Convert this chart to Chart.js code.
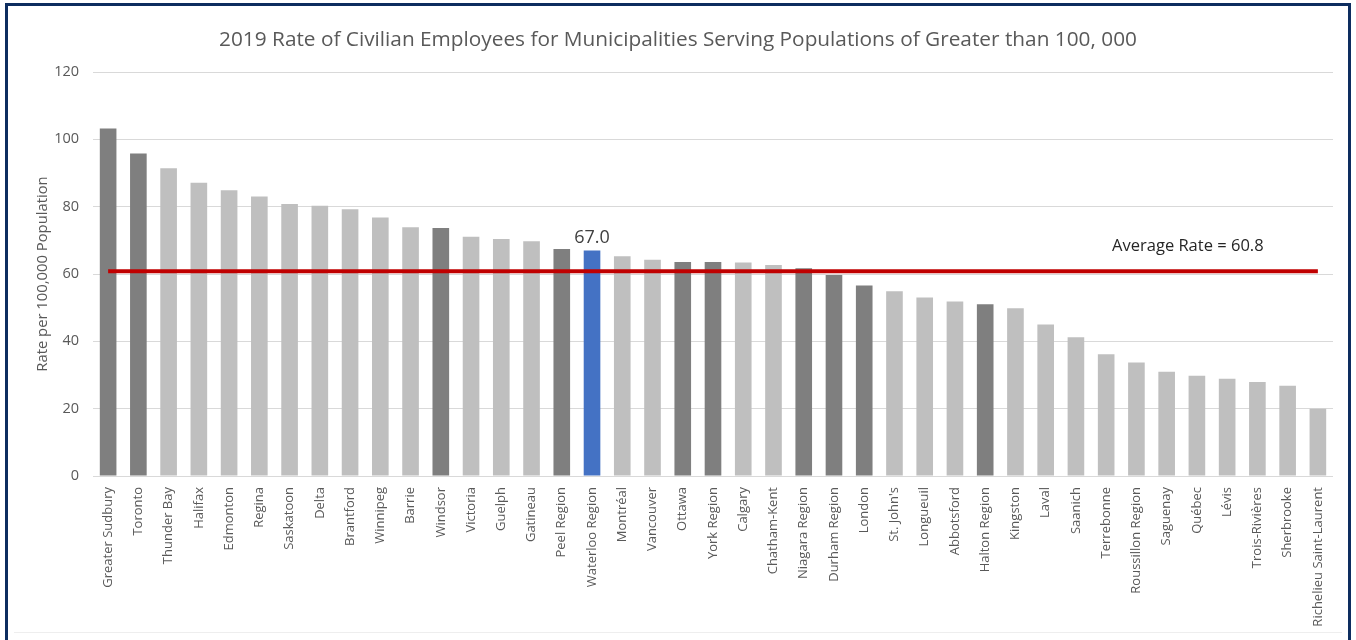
<!DOCTYPE html>
<html lang="en">
<head>
    <meta charset="UTF-8">
    <title>2019 Rate of Civilian Employees</title>
    <script src="https://cdn.jsdelivr.net/npm/chart.js"></script>
    <style>
        html, body { margin: 0; padding: 0; background: #fff; }
        #wrap { position: relative; width: 1356px; height: 640px; }
        #frame {
            position: absolute; left: 5px; top: 3px; width: 1340px; height: 640px;
            border: 3px solid #0d2d5f; border-bottom: none; pointer-events: none;
        }
    </style>
</head>
<body>
    <div id="wrap">
        <canvas id="chart" width="1356" height="640"></canvas>
        <div id="frame"></div>
    </div>
    <script>
        // Municipalities, sorted by rate (civilian employees per 100,000 population)
        var municipalities = ['Greater Sudbury', 'Toronto', 'Thunder Bay', 'Halifax', 'Edmonton', 'Regina',
            'Saskatoon', 'Delta', 'Brantford', 'Winnipeg', 'Barrie', 'Windsor', 'Victoria', 'Guelph',
            'Gatineau', 'Peel Region', 'Waterloo Region', 'Montréal', 'Vancouver', 'Ottawa', 'York Region',
            'Calgary', 'Chatham-Kent', 'Niagara Region', 'Durham Region', 'London', "St. John's",
            'Longueuil', 'Abbotsford', 'Halton Region', 'Kingston', 'Laval', 'Saanich', 'Terrebonne',
            'Roussillon Region', 'Saguenay', 'Québec', 'Lévis', 'Trois-Rivières', 'Sherbrooke',
            'Richelieu Saint-Laurent'];

        var rates = [103.2, 95.8, 91.4, 87.1, 84.9, 83.0,
            80.8, 80.3, 79.2, 76.8, 73.9, 73.7, 71.1, 70.4,
            69.7, 67.4, 67.0, 65.3, 64.2, 63.6, 63.6,
            63.4, 62.7, 61.7, 59.7, 56.6, 54.9,
            53.0, 51.8, 51.0, 49.8, 45.0, 41.2, 36.2,
            33.7, 31.0, 29.8, 28.9, 27.9, 26.8,
            20.0];

        // Comparator group (darker bars) and the highlighted municipality
        var comparators = ['Greater Sudbury', 'Toronto', 'Windsor', 'Peel Region', 'Ottawa', 'York Region',
            'Niagara Region', 'Durham Region', 'London', 'Halton Region'];
        var focusMunicipality = 'Waterloo Region';
        var averageRate = 60.8;

        var yTicks = [0, 20, 40, 60, 80, 100, 120];
        var chartTitle = '2019 Rate of Civilian Employees for Municipalities Serving Populations of Greater than 100, 000';

        var FONT = "'Open Sans', sans-serif";
        var TEXT = '#595959';

        var barColors = municipalities.map(function(m) {
            if (m === focusMunicipality) return '#4472c4';
            if (comparators.indexOf(m) >= 0) return '#7f7f7f';
            return '#bfbfbf';
        });

        // title, value label over the highlighted bar, average rate caption
        var annotations = {
            id: 'annotations',
            afterDatasetsDraw: function(chart) {
                var ctx = chart.ctx;
                var x = chart.scales.x, y = chart.scales.y;
                var i = municipalities.indexOf(focusMunicipality);
                var bar = chart.getDatasetMeta(1).data[i];
                ctx.save();
                ctx.textAlign = 'center';
                ctx.textBaseline = 'middle';
                ctx.font = '20.8px ' + FONT;
                ctx.fillStyle = TEXT;
                ctx.fillText(chartTitle, 678, 40);

                ctx.textBaseline = 'alphabetic';
                ctx.font = '18px ' + FONT;
                ctx.fillStyle = '#404040';
                ctx.fillText(rates[i].toFixed(1), bar.x, bar.y - 7);

                ctx.font = '16.5px ' + FONT;
                ctx.fillStyle = '#262626';
                ctx.fillText('Average Rate = ' + averageRate.toFixed(1), x.getPixelForValue(35.7), y.getPixelForValue(averageRate) - 20);

                // faint bottom edge of the chart box
                ctx.strokeStyle = '#eeeeee';
                ctx.lineWidth = 1;
                ctx.beginPath();
                ctx.moveTo(14, 632.5);
                ctx.lineTo(1342, 632.5);
                ctx.stroke();
                ctx.restore();
            }
        };

        var ctx = document.getElementById('chart').getContext('2d');
        var chart = new Chart(ctx, {
            type: 'bar',
            data: {
                labels: municipalities,
                datasets: [
                    {
                        type: 'line',
                        label: 'Average Rate',
                        data: municipalities.map(function() { return averageRate; }),
                        borderColor: '#c00000',
                        borderWidth: 4,
                        pointRadius: 0,
                        fill: false,
                        order: 0
                    },
                    {
                        label: 'Rate per 100,000 Population',
                        data: rates,
                        backgroundColor: barColors,
                        barPercentage: 0.55,
                        categoryPercentage: 1.0,
                        order: 1
                    }
                ]
            },
            options: {
                responsive: false,
                animation: false,
                layout: { padding: { left: 0, right: 23, top: 72, bottom: 0 } },
                plugins: {
                    legend: { display: false },
                    tooltip: { enabled: false },
                    title: { display: false }
                },
                scales: {
                    x: {
                        grid: { display: false },
                        border: { display: false },
                        ticks: {
                            color: TEXT,
                            font: { family: FONT, size: 13 },
                            minRotation: 90, maxRotation: 90,
                            autoSkip: false,
                            padding: 3
                        },
                        afterFit: function(scale) { scale.height = 164; }
                    },
                    y: {
                        min: 0, max: 120,
                        afterBuildTicks: function(scale) {
                            scale.ticks = yTicks.map(function(v) { return { value: v }; });
                        },
                        grid: { color: '#d9d9d9', lineWidth: 1, drawTicks: false },
                        border: { display: false },
                        ticks: { color: TEXT, font: { family: FONT, size: 14.5 }, padding: 14 },
                        title: {
                            display: true,
                            text: 'Rate per 100,000 Population',
                            color: TEXT,
                            font: { family: FONT, size: 14.8 },
                            padding: { top: 34, bottom: 0 }
                        },
                        afterFit: function(scale) { scale.width = 93; }
                    }
                }
            },
            plugins: [annotations]
        });
    </script>
</body>
</html>
